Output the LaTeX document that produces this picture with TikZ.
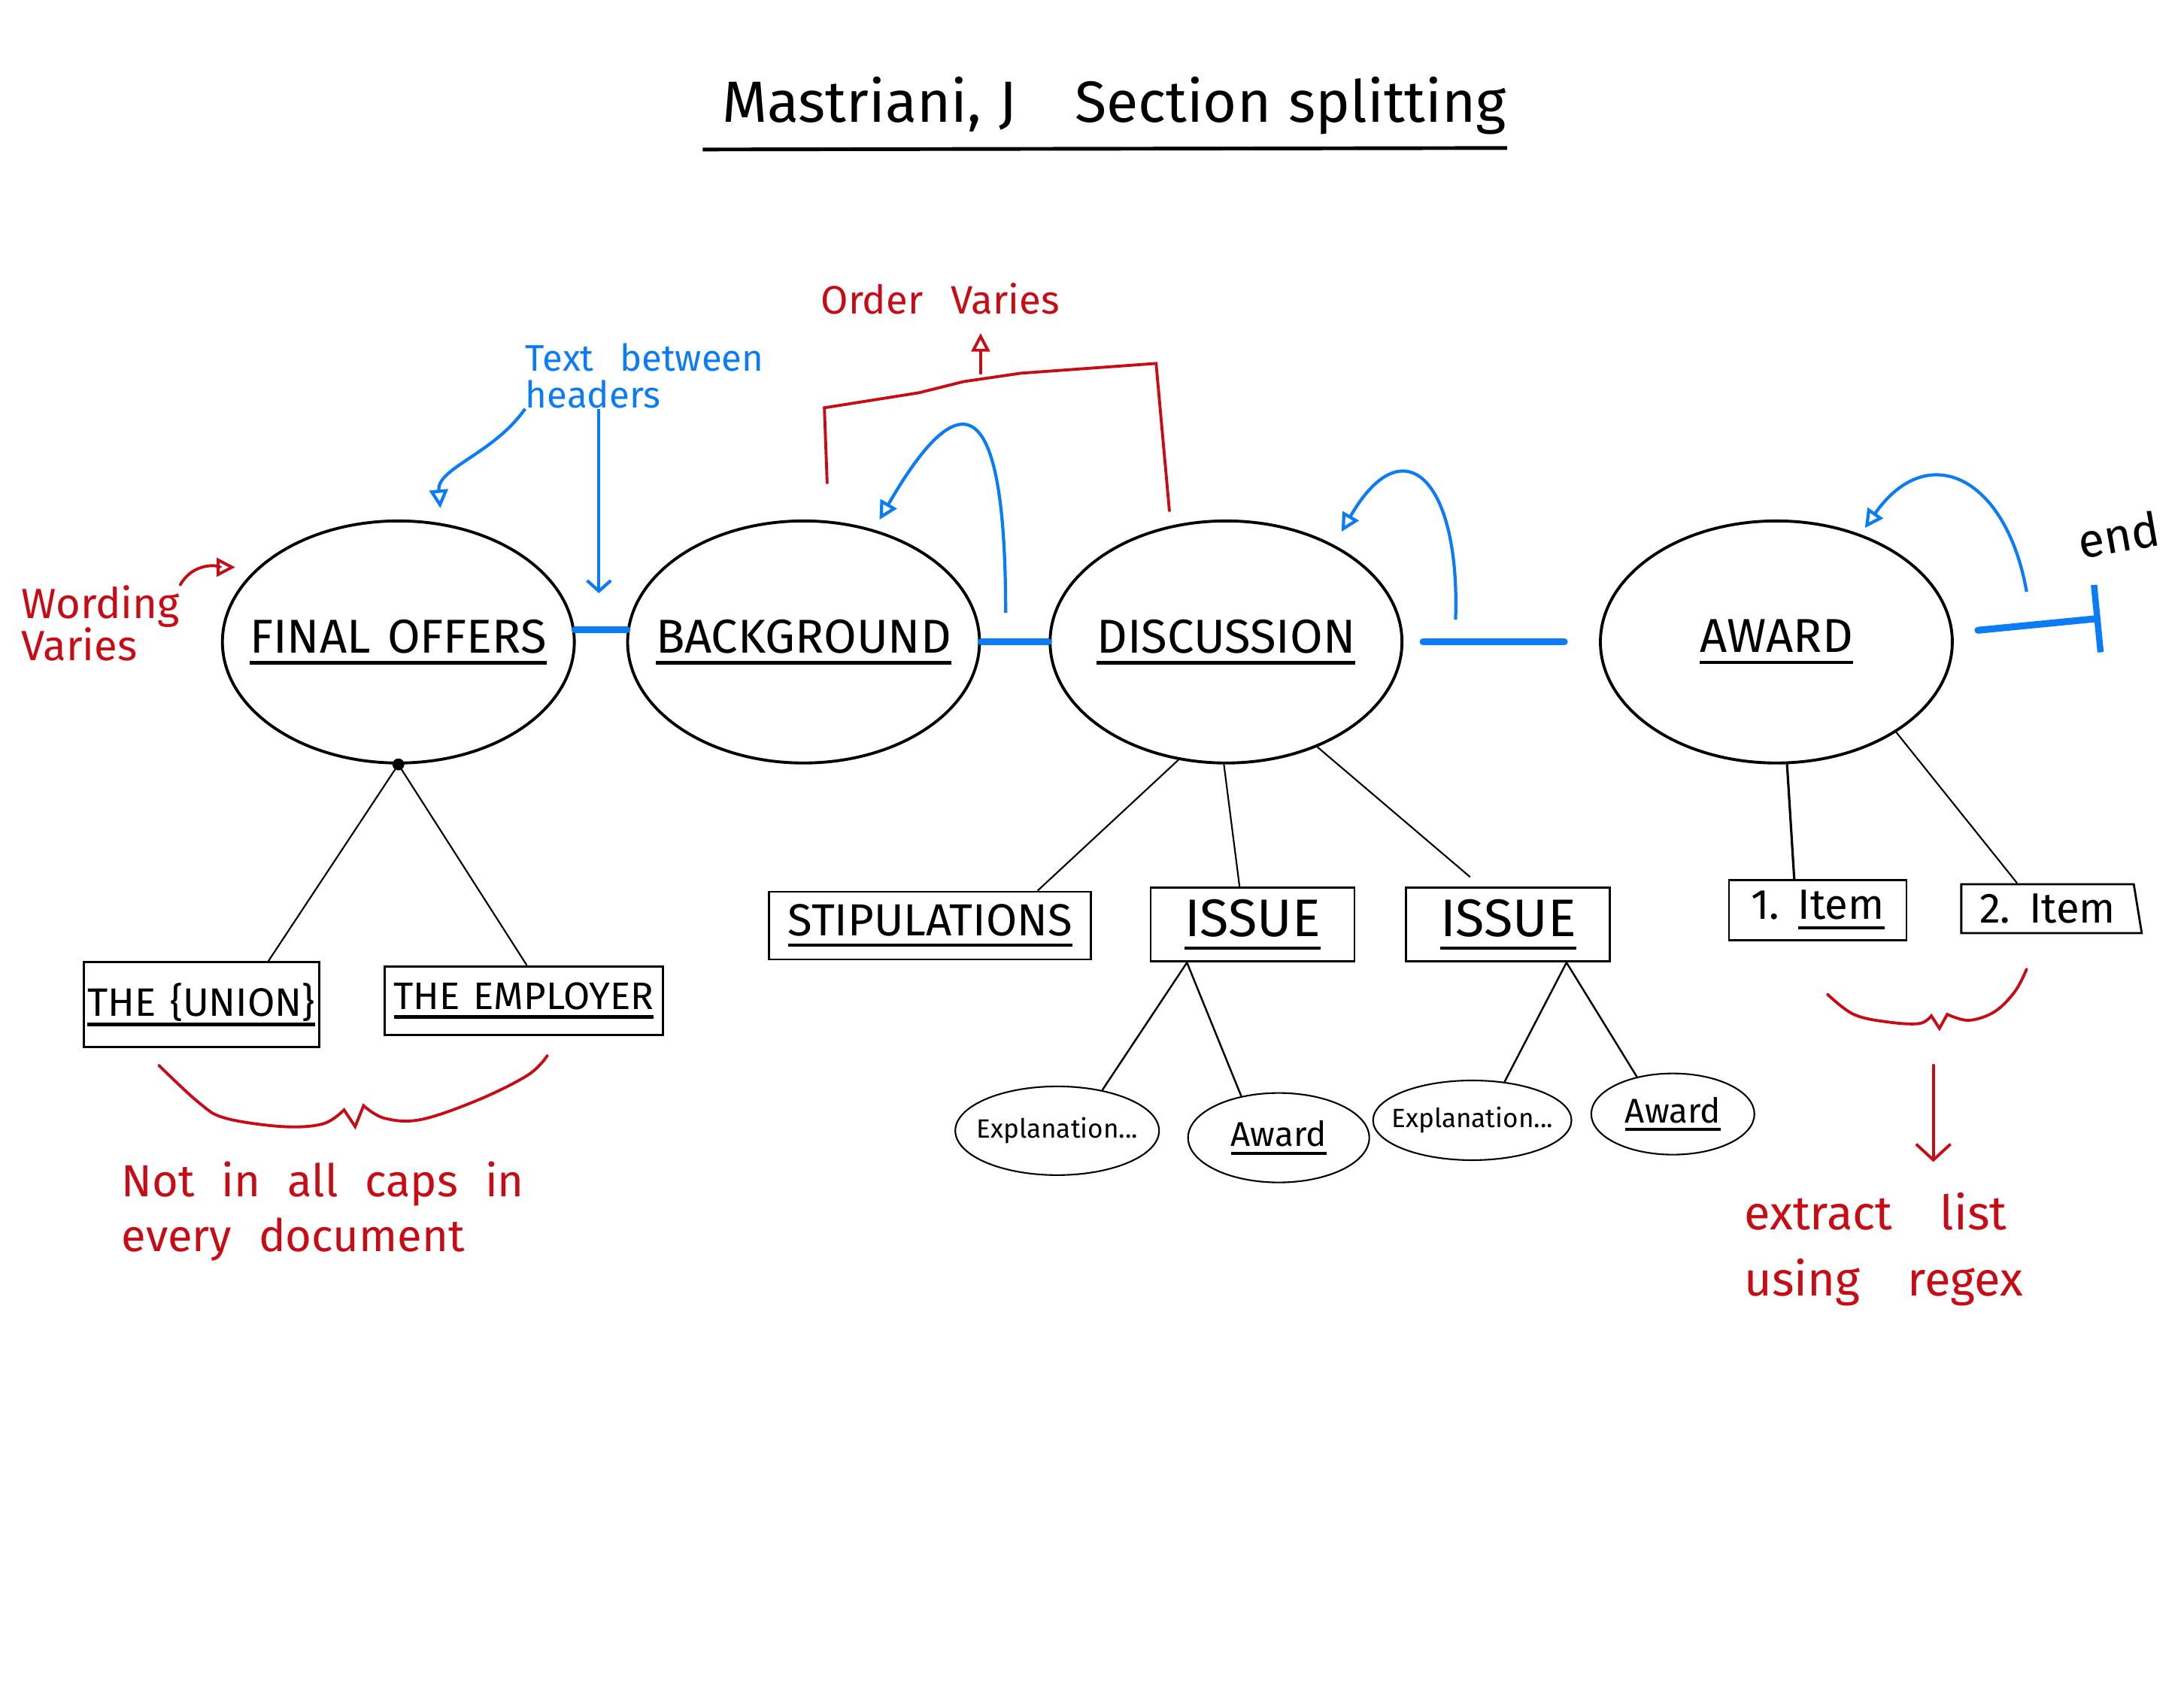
\documentclass[tikz,border=0pt]{standalone}
\usepackage{fontspec}
\setmainfont{Fira Sans}
\usetikzlibrary{arrows.meta, shapes.geometric, positioning}
\definecolor{inkblue}{RGB}{12, 124, 245}
\definecolor{inkred}{RGB}{200, 12, 22}
\newcommand{\handfont}[3]{\fontsize{#1}{#2}\selectfont\spaceskip=#3em\relax}
\newbox\hdrbox
\newcommand{\hdrline}[1]{\setbox\hdrbox\hbox{#1}\leavevmode
  \rlap{\rule[-0.24em]{\wd\hdrbox}{1.2pt}}\box\hdrbox}

\begin{document}
\begin{tikzpicture}[
    x=0.01852cm, y=0.01852cm,
    sect/.style={ellipse, draw, line width=1.1pt, minimum width=4.68cm,
                 minimum height=3.22cm, inner sep=-14pt, font=\handfont{18}{20}{0.35}},
    box/.style={draw, line width=0.8pt, inner sep=0pt, font=\handfont{16}{18}{0.35}},
    sub/.style={ellipse, draw, line width=0.6pt, inner sep=-4pt, font=\handfont{13}{15}{0.3}},
    link/.style={line width=0.6pt},
    flow/.style={line width=2.6pt, color=inkblue, line cap=round},
    arr/.style={-{Triangle[open, length=7pt, width=7pt]}, line width=1.2pt, color=inkblue},
    note/.style={line width=1.1pt, color=inkred, line cap=round},
    lbl/.style={align=left, inner sep=0pt, anchor=north west},
  ]
  \useasboundingbox (0,0) rectangle (1568,-1212);

  % title
  \node[inner sep=0pt, font=\handfont{22}{24}{0.3}] (title) at (800,-76)
    {Mastriani, J\hspace{1em}Section splitting};
  \draw[line width=1.4pt] ([xshift=-0.25cm, yshift=-0.19cm]title.south west)
    -- ([yshift=-0.17cm]title.south east);

  % sections
  \node[sect] (fo) at (286,-461) {\hdrline{FINAL OFFERS}};
  \node[sect, right=0.67cm of fo] (bg) {\hdrline{BACKGROUND}};
  \node[sect, right=0.9cm of bg] (disc) {\hdrline{DISCUSSION}};
  \node[sect, right=2.6cm of disc] (aw) {\hdrline{AWARD}};

  % parts
  \node[box, minimum width=3.13cm, minimum height=1.13cm, font=\handfont{15}{17}{0.35}]
    (union) at (144.5,-721.5) {\hdrline{THE \{UNION\}}};
  \node[box, minimum width=3.7cm, minimum height=0.91cm, font=\handfont{14.5}{17}{0.35}]
    (emp) at (376,-718.5) {\hdrline{THE EMPLOYER}};
  \node[box, minimum width=4.28cm, minimum height=0.9cm, font=\handfont{17}{19}{0.35}]
    (stip) at (667.8,-664.7) {\hdrline{STIPULATIONS}};
  \node[box, minimum width=2.71cm, minimum height=0.98cm, font=\handfont{20}{22}{0.35}]
    (is1) at (899.3,-664) {\hdrline{ISSUE}};
  \node[box, minimum width=2.71cm, minimum height=0.98cm, font=\handfont{20}{22}{0.35},
    right=0.66cm of is1] (is2) {\hdrline{ISSUE}};
  \node[box, minimum width=2.36cm, minimum height=0.8cm] (it1) at (1305,-653.5) {1. \hdrline{Item}};
  \node[box, trapezium, trapezium left angle=90, trapezium right angle=78,
    trapezium stretches=true, minimum width=2.41cm, minimum height=0.65cm]
    (it2) at (1470,-652.5) {2. Item};

  \node[sub, minimum width=2.71cm, minimum height=1.18cm, font=\handfont{10}{12}{0.3}]
    (ex1) at (759,-812) {Explanation...};
  \node[sub, minimum width=2.41cm, minimum height=1.19cm] (aw1) at (918,-817) {\hdrline{Award}};
  \node[sub, minimum width=2.43cm, minimum height=1.06cm, font=\handfont{10}{12}{0.3}]
    (ex2) at (1057,-804.5) {Explanation...};
  \node[sub, minimum width=2.17cm, minimum height=1.08cm] (aw2) at (1201,-800) {\hdrline{Award}};

  % tree lines
  \node[circle, fill, inner sep=0pt, minimum size=4.5pt] (fodot) at (fo.south) {};
  \draw[link] (fodot.center) -- (union.33);
  \draw[link] (fodot.center) -- (emp.85);
  \draw[link] (disc.-112) -- (stip.18);
  \draw[link] (disc.-91) -- (is1.109);
  \draw[link, shorten >=0.2cm] (disc.-49) -- (is2.125);
  \draw[link, line width=0.9pt] (aw.-85) -- (it1.127);
  \draw[link] (aw.-37) -- (it2.140);
  \draw[link, line width=0.7pt] (is1.-150) -- (ex1.42);
  \draw[link, line width=0.7pt] (is1.-150) -- (aw1.132);
  \draw[link, line width=0.7pt] (is2.-33) -- (ex2.50);
  \draw[link, line width=0.7pt] (is2.-33) -- (aw2.134);

  % flow between headers
  \draw[flow] (fo.4) -- (bg.176);
  \draw[flow] (bg) -- (disc);
  \draw[flow, shorten <=0.26cm, shorten >=0.46cm] (disc) -- (aw);
  \coordinate (fin) at (1508,-444);
  \draw[flow, shorten <=0.33cm, -{Bar[width=0.9cm, line width=2.4pt]}] (aw.3) -- (fin);
  \node[inner sep=0pt, rotate=10, font=\handfont{18}{20}{0.3}] (endlbl) at (1521,-384) {end};

  % text between headers
  \coordinate (bgloop) at (722,-440);
  \coordinate (discloop) at (1045,-445);
  \coordinate (awloop) at (1455,-425);
  \draw[arr, shorten >=0.15cm] (bgloop) to[out=90, in=60, looseness=3.2] (bg.58);
  \draw[arr, shorten >=0.2cm] (discloop) to[out=88, in=60, looseness=2.5] (disc.42);
  \draw[arr, shorten >=0.1cm] (awloop) to[out=100, in=55, looseness=1.7] (aw.52);

  \node[lbl, color=inkblue, font=\handfont{14}{14}{0.7}] (tbh) at (377,-246) {Text between\\headers};
  \draw[arr, shorten >=0.2cm] (tbh.south west) to[out=-125, in=95] (fo.70);
  \coordinate (tbhend) at (430,-426);
  \draw[arr, -{Straight Barb[length=4pt, width=9pt]}] (tbh.south -| tbhend) -- (tbhend);

  % order varies
  \node[lbl, color=inkred, font=\handfont{15}{17}{0.7}] (ov) at (589,-203) {Order Varies};
  \draw[note] ([yshift=0.5cm]bg.79) -- ++(-2,54) -- (660,-282) -- (692,-274) -- (733,-268)
    -- (830,-261) -- ([yshift=0.2cm]disc.116);
  \coordinate (brkmid) at (704,-268);
  \draw[note, -{Triangle[open, length=7pt, width=7pt]}, shorten >=0.24cm] (brkmid) -- (brkmid |- ov.south);

  % wording varies
  \node[lbl, color=inkred, font=\handfont{16}{16}{0.5}] (wv) at (15,-420) {Wording\\Varies};
  \draw[note, -{Triangle[open, length=7pt, width=7pt]}, shorten >=0.3cm]
    (wv.north east) to[out=60, in=180] (fo.152);

  % not in all caps
  \draw[note] plot[smooth, tension=0.6] coordinates {(114,-765) (143,-792) (162,-803) (203,-809)
      (232,-807) (247,-797)} -- (255,-809)
    -- plot[smooth, tension=0.6] coordinates {(261,-794) (276,-803) (302,-804) (343,-790)
      (379,-772) (393,-758)};
  \node[lbl, color=inkred, font=\handfont{17}{20.6}{0.6}] (nocaps) at (87,-834)
    {Not in all caps in\\every document};

  % extract list
  \draw[note] plot[smooth, tension=0.6] coordinates {(1312,-714) (1331,-728.5) (1356,-734)
      (1378,-735) (1386.6,-729.5)} -- (1392.4,-738.5)
    -- plot[smooth, tension=0.6] coordinates {(1398,-728.4) (1413.5,-732.7) (1432,-726.5)
      (1446.6,-712) (1455,-696)};
  \node[lbl, color=inkred, font=\handfont{18}{25}{1}] (regex) at (1252,-856)
    {extract list\\using regex};
  \coordinate (brc) at (1388,-765);
  \draw[note, -{Straight Barb[length=6pt, width=13pt]}, shorten >=0.4cm] (brc) -- (regex.north -| brc);
\end{tikzpicture}
\end{document}
